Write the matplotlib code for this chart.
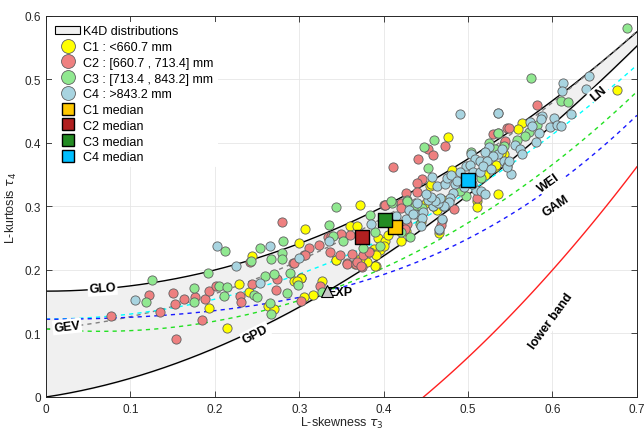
import matplotlib.pyplot as plt
import numpy as np
from matplotlib.patches import Patch
from matplotlib.lines import Line2D

# Station L-moment ratios, grouped by mean annual precipitation class
c1_t3 = [0.372, 0.307, 0.300, 0.343, 0.366, 0.244, 0.302, 0.360, 0.368, 0.391,
         0.389, 0.396, 0.384, 0.391, 0.376, 0.393, 0.402, 0.294, 0.302, 0.297,
         0.327, 0.316, 0.306, 0.229, 0.241, 0.263, 0.270, 0.215, 0.193, 0.476,
         0.481, 0.455, 0.456, 0.463, 0.466, 0.511, 0.511, 0.535, 0.520, 0.532,
         0.542, 0.543, 0.564, 0.559, 0.539, 0.533, 0.677, 0.344, 0.390, 0.440,
         0.450, 0.470, 0.458, 0.420, 0.405, 0.380, 0.372, 0.400, 0.426, 0.444]
c1_t4 = [0.302, 0.264, 0.242, 0.216, 0.209, 0.222, 0.188, 0.270, 0.270, 0.207,
         0.233, 0.232, 0.229, 0.223, 0.222, 0.250, 0.245, 0.183, 0.187, 0.182,
         0.182, 0.161, 0.157, 0.178, 0.165, 0.144, 0.139, 0.109, 0.140, 0.409,
         0.358, 0.333, 0.335, 0.295, 0.259, 0.308, 0.299, 0.320, 0.350, 0.362,
         0.398, 0.383, 0.432, 0.422, 0.384, 0.365, 0.484, 0.215, 0.206, 0.290,
         0.305, 0.310, 0.300, 0.245, 0.255, 0.213, 0.218, 0.238, 0.262, 0.276]

c2_t3 = [0.279, 0.400, 0.411, 0.452, 0.458, 0.473, 0.441, 0.446, 0.439, 0.439,
         0.427, 0.401, 0.420, 0.421, 0.483, 0.469, 0.468, 0.510, 0.546, 0.582,
         0.548, 0.530, 0.544, 0.312, 0.323, 0.334, 0.338, 0.306, 0.293, 0.336,
         0.357, 0.362, 0.376, 0.383, 0.242, 0.244, 0.274, 0.273, 0.230, 0.231,
         0.185, 0.176, 0.188, 0.193, 0.201, 0.163, 0.153, 0.151, 0.122, 0.135,
         0.077, 0.154, 0.302, 0.325, 0.348, 0.357, 0.367, 0.374, 0.368, 0.373,
         0.402, 0.411, 0.428, 0.425, 0.294, 0.307, 0.360, 0.350]
c2_t4 = [0.276, 0.303, 0.362, 0.391, 0.381, 0.396, 0.375, 0.343, 0.337, 0.323,
         0.322, 0.303, 0.305, 0.298, 0.296, 0.279, 0.271, 0.313, 0.423, 0.460,
         0.424, 0.414, 0.403, 0.235, 0.240, 0.252, 0.253, 0.224, 0.211, 0.229,
         0.211, 0.225, 0.223, 0.229, 0.212, 0.178, 0.186, 0.169, 0.159, 0.149,
         0.122, 0.157, 0.155, 0.167, 0.174, 0.154, 0.147, 0.164, 0.161, 0.134,
         0.127, 0.092, 0.151, 0.175, 0.224, 0.209, 0.209, 0.204, 0.212, 0.206,
         0.302, 0.270, 0.272, 0.265, 0.211, 0.224, 0.255, 0.257]

c3_t3 = [0.688, 0.575, 0.610, 0.618, 0.582, 0.572, 0.567, 0.536, 0.558, 0.542,
         0.525, 0.536, 0.532, 0.504, 0.498, 0.460, 0.448, 0.452, 0.428, 0.410,
         0.437, 0.409, 0.428, 0.431, 0.343, 0.335, 0.384, 0.340, 0.352, 0.254,
         0.281, 0.280, 0.280, 0.266, 0.243, 0.259, 0.270, 0.289, 0.299, 0.285,
         0.327, 0.246, 0.250, 0.265, 0.267, 0.212, 0.126, 0.192, 0.118, 0.175,
         0.175, 0.205, 0.215, 0.211, 0.396, 0.375, 0.390, 0.420, 0.445, 0.470,
         0.443, 0.490, 0.515]
c3_t4 = [0.581, 0.502, 0.466, 0.465, 0.429, 0.417, 0.411, 0.416, 0.404, 0.395,
         0.400, 0.415, 0.391, 0.386, 0.317, 0.404, 0.394, 0.360, 0.310, 0.306,
         0.301, 0.308, 0.309, 0.252, 0.299, 0.271, 0.286, 0.254, 0.245, 0.234,
         0.245, 0.226, 0.217, 0.217, 0.214, 0.190, 0.194, 0.195, 0.176, 0.163,
         0.165, 0.161, 0.157, 0.148, 0.131, 0.230, 0.184, 0.195, 0.150, 0.171,
         0.149, 0.174, 0.173, 0.159, 0.238, 0.235, 0.260, 0.260, 0.298, 0.300,
         0.272, 0.325, 0.345]

c4_t3 = [0.491, 0.535, 0.613, 0.611, 0.643, 0.640, 0.622, 0.535, 0.587, 0.586,
         0.602, 0.597, 0.605, 0.610, 0.573, 0.576, 0.584, 0.580, 0.556, 0.561,
         0.564, 0.542, 0.546, 0.551, 0.525, 0.520, 0.536, 0.530, 0.540, 0.546,
         0.548, 0.503, 0.508, 0.514, 0.497, 0.502, 0.506, 0.514, 0.522, 0.518,
         0.527, 0.509, 0.515, 0.520, 0.457, 0.463, 0.473, 0.484, 0.482, 0.479,
         0.477, 0.471, 0.459, 0.464, 0.467, 0.461, 0.453, 0.456, 0.437, 0.447,
         0.446, 0.466, 0.465, 0.469, 0.385, 0.335, 0.265, 0.300, 0.203, 0.225,
         0.105, 0.253, 0.490, 0.495, 0.440, 0.450, 0.430, 0.427, 0.435, 0.490,
         0.475, 0.480, 0.505, 0.415, 0.444, 0.487]
c4_t4 = [0.446, 0.448, 0.495, 0.482, 0.506, 0.485, 0.445, 0.447, 0.443, 0.438,
         0.440, 0.425, 0.429, 0.426, 0.433, 0.427, 0.416, 0.401, 0.397, 0.391,
         0.383, 0.372, 0.364, 0.351, 0.394, 0.386, 0.383, 0.380, 0.391, 0.362,
         0.372, 0.382, 0.375, 0.372, 0.363, 0.365, 0.354, 0.355, 0.372, 0.363,
         0.359, 0.326, 0.324, 0.320, 0.347, 0.333, 0.335, 0.335, 0.321, 0.313,
         0.307, 0.301, 0.301, 0.305, 0.314, 0.309, 0.310, 0.315, 0.288, 0.291,
         0.282, 0.263, 0.265, 0.280, 0.272, 0.245, 0.237, 0.219, 0.238, 0.207,
         0.153, 0.180, 0.340, 0.330, 0.305, 0.320, 0.295, 0.280, 0.288, 0.355,
         0.345, 0.350, 0.335, 0.285, 0.270, 0.340]

# Class medians (tau3, tau4)
median_t3 = [0.414, 0.374, 0.402, 0.500]
median_t4 = [0.268, 0.252, 0.279, 0.342]

class_labels = ['C1 : <660.7 mm', 'C2 : [660.7 , 713.4] mm',
                'C3 : [713.4 , 843.2] mm', 'C4 : >843.2 mm']
point_colors = ['#ffff00', '#ee8080', '#90e890', '#a8d4e0']
median_colors = ['#ffc800', '#b02020', '#238b23', '#00bfff']

# Polynomial approximations of tau4(tau3), increasing powers (Hosking & Wallis)
gev_coef = [0.10701, 0.11090, 0.84838, -0.06669, 0.00567, -0.04208, 0.03763]
ln_coef = [0.12282, 0, 0.77518, 0, 0.12279, 0, -0.13638, 0, 0.11368]
gam_coef = [0.12240, 0, 0.30115, 0, 0.95812, 0, -0.57488, 0, 0.19383]

exp_point = (1 / 3, 1 / 6)


def poly(coef, t):
    return np.polyval(coef[::-1], t)


t3 = np.linspace(0, 0.7, 300)
glo = (1 + 5 * t3 ** 2) / 6
gpd = t3 * (1 + 5 * t3) / (5 + t3)
gev = poly(gev_coef, t3)
wei = poly(gev_coef, -t3)
ln = poly(ln_coef, t3)
gam = poly(gam_coef, t3)
t3_lb = np.linspace(np.sqrt(0.2), 0.7, 100)
lower = (5 * t3_lb ** 2 - 1) / 4

axc = '#262626'
plt.rcParams['font.family'] = 'Liberation Sans'
fig = plt.figure(figsize=(6.44, 4.31), dpi=100)
ax = fig.add_axes([0.0714, 0.0766, 0.9176, 0.884])

ax.fill_between(t3, gpd, glo, color='#f0f0f0', zorder=1)
ax.plot(t3, glo, color='k', lw=1.0, zorder=2)
ax.plot(t3, gpd, color='k', lw=1.0, zorder=2)
ax.plot(t3, gev, color='#808080', lw=1.0, ls=(0, (3, 3)), zorder=2)
ax.plot(t3, ln, color='#00ffff', lw=1.0, ls=(0, (3, 3)), zorder=2)
ax.plot(t3, wei, color='#22e022', lw=1.0, ls=(0, (3, 3)), zorder=2)
ax.plot(t3, gam, color='#1a1aff', lw=1.0, ls=(0, (3, 3)), zorder=2)
ax.plot(t3_lb, lower, color='#ff2020', lw=1.0, zorder=2)

all_t3 = [c1_t3, c2_t3, c3_t3, c4_t3]
all_t4 = [c1_t4, c2_t4, c3_t4, c4_t4]
for x, y, c in zip(all_t3, all_t4, point_colors):
    ax.scatter(x, y, s=44, c=c, edgecolors='#606060', linewidths=0.6, zorder=3)

ax.plot(*exp_point, marker='^', ms=9, mfc='#c8c8c8', mec='k', mew=0.8, zorder=5)
for x, y, c in zip(median_t3, median_t4, median_colors):
    ax.scatter(x, y, s=110, marker='s', c=c, edgecolors='k', linewidths=1.0, zorder=6)

# Inline curve labels
lbl = dict(fontsize=9, fontweight='bold', ha='center', va='center', zorder=7,
           bbox=dict(facecolor='white', edgecolor='none', pad=1.0))
ax.text(0.067, 0.171, 'GLO', rotation=4, **lbl)
ax.text(0.025, 0.111, 'GEV', rotation=6, **lbl)
ax.text(0.248, 0.099, 'GPD', rotation=27, **lbl)
ax.text(0.348, 0.165, 'EXP', fontsize=9, fontweight='bold', ha='center',
        va='center', zorder=4)
ax.text(0.655, 0.478, 'LN', rotation=40, **lbl)
ax.text(0.596, 0.338, 'WEI', rotation=36, **lbl)
ax.text(0.604, 0.302, 'GAM', rotation=34, **lbl)
ax.text(0.598, 0.120, 'lower band', rotation=54, **lbl)

ax.set_xlim(0, 0.7)
ax.set_ylim(0, 0.6)
ax.set_xticks(np.arange(0, 0.71, 0.1))
ax.set_yticks(np.arange(0, 0.61, 0.1))
ax.set_xticklabels(['0'] + ['%.1f' % v for v in np.arange(0.1, 0.71, 0.1)])
ax.set_yticklabels(['0'] + ['%.1f' % v for v in np.arange(0.1, 0.61, 0.1)])
ax.tick_params(direction='in', length=4, width=0.6, top=True, right=True,
               labelsize=8.5, colors=axc)
ax.tick_params(axis='x', pad=4)
for s in ax.spines.values():
    s.set_color(axc)
    s.set_linewidth(0.7)
ax.grid(True, color='#e6e6e6', lw=0.6)
ax.set_axisbelow(True)
ax.set_xlabel(r'L-skewness $\tau_3$', fontsize=9, color=axc, labelpad=0)
ax.set_ylabel(r'L-kurtosis $\tau_4$', fontsize=9, color=axc, labelpad=4)

handles = [Patch(facecolor='#f0f0f0', edgecolor='k', lw=0.8, label='K4D distributions')]
for lab, c in zip(class_labels, point_colors):
    handles.append(Line2D([], [], ls='none', marker='o', ms=10, mfc=c,
                          mec='#606060', mew=0.6, label=lab))
for i, c in enumerate(median_colors):
    handles.append(Line2D([], [], ls='none', marker='s', ms=8.5, mfc=c,
                          mec='k', mew=1.0, label='C%d median' % (i + 1)))
leg = ax.legend(handles=handles, loc='upper left', fontsize=9, frameon=True,
                framealpha=1, edgecolor='none', borderaxespad=0.45,
                handlelength=2.0, handletextpad=0.25, labelspacing=0.3,
                borderpad=0.3)
leg.set_zorder(10)

fig.savefig('out.png', dpi=100)
